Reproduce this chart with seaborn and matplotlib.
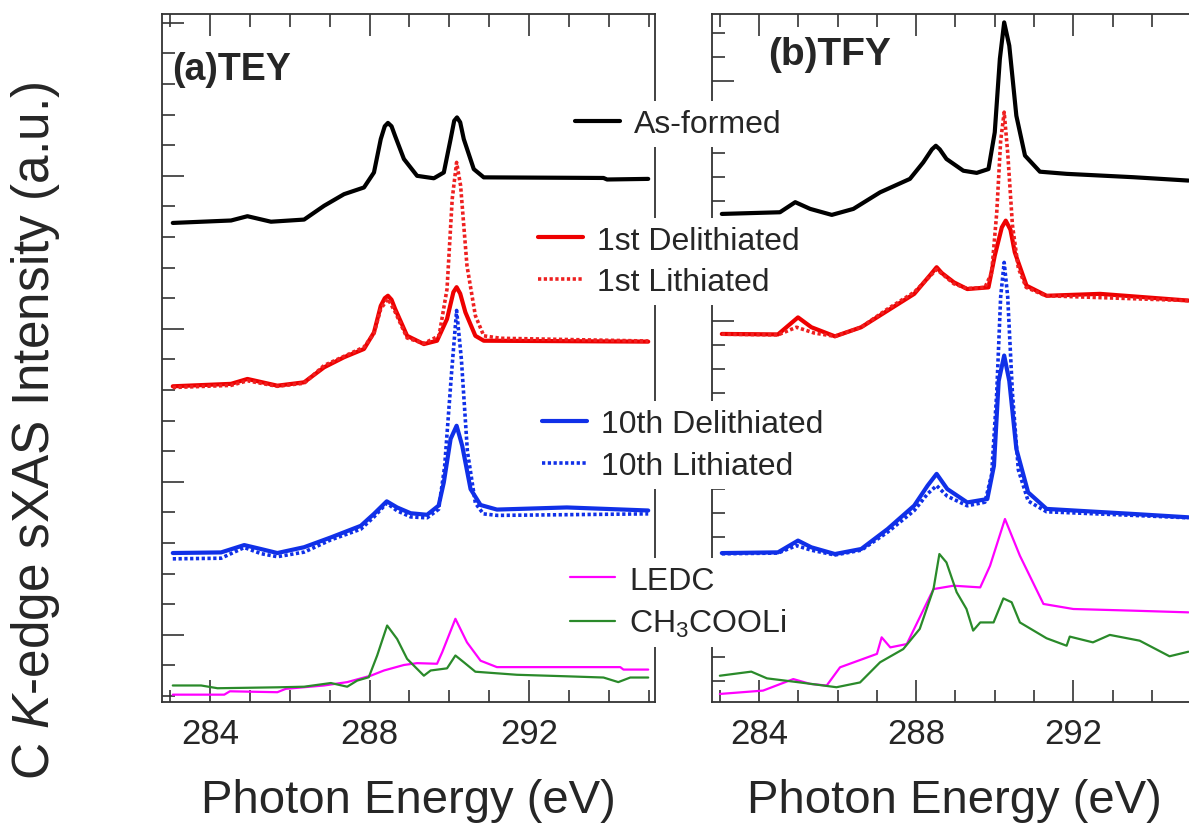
import numpy as np
import pandas as pd
import seaborn as sns
import matplotlib.pyplot as plt
from matplotlib.ticker import MultipleLocator, FixedLocator

sns.set_theme(style='ticks')
plt.rcParams['font.family'] = ['Liberation Sans', 'DejaVu Sans']
plt.rcParams['mathtext.fontset'] = 'custom'
plt.rcParams['mathtext.rm'] = 'Liberation Sans'
plt.rcParams['mathtext.it'] = 'Liberation Sans:italic'

# ---- (a) TEY ----
tey_asformed_x = [283.07, 284.53, 284.94, 285.53, 286.36, 286.86, 287.36, 287.86, 288.11, 288.28, 288.38, 288.46,
                  288.55, 288.64, 288.86, 289.19, 289.61, 289.86, 290.03, 290.12, 290.19, 290.27, 290.36, 290.61,
                  290.86, 293.86, 293.95, 294.98]
tey_asformed_y = [15.46, 15.54, 15.68, 15.50, 15.57, 16.02, 16.40, 16.62, 17.11, 18.20, 18.62, 18.73,
                  18.62, 18.30, 17.55, 17.00, 16.92, 17.11, 18.20, 18.80, 18.91, 18.75, 18.20, 17.22,
                  16.95, 16.93, 16.88, 16.90]

tey_deli1_x = [283.07, 284.53, 284.94, 285.69, 286.36, 286.86, 287.36, 287.86, 288.11, 288.28, 288.38, 288.46,
               288.55, 288.64, 288.94, 289.36, 289.69, 289.94, 290.10, 290.18, 290.27, 290.40, 290.65, 290.86, 294.98]
tey_deli1_y = [10.12, 10.20, 10.36, 10.14, 10.25, 10.74, 11.07, 11.34, 11.88, 12.75, 13.00, 13.08,
               12.95, 12.65, 11.77, 11.50, 11.61, 12.32, 13.20, 13.36, 13.15, 12.54, 11.77, 11.61, 11.58]

tey_li1_x = [283.07, 284.53, 284.94, 285.69, 286.36, 286.86, 287.36, 287.86, 288.11, 288.28, 288.46, 288.64,
             288.94, 289.36, 289.74, 289.94, 290.07, 290.18, 290.28, 290.44, 290.65, 290.86, 291.28, 294.98]
tey_li1_y = [10.08, 10.15, 10.30, 10.12, 10.22, 10.80, 11.10, 11.40, 11.85, 12.65, 12.98, 12.55,
             11.70, 11.52, 11.77, 13.30, 16.24, 17.44, 16.68, 14.06, 12.43, 11.77, 11.69, 11.60]

tey_deli10_x = [283.07, 284.28, 284.86, 285.28, 285.69, 286.36, 287.03, 287.78, 288.11, 288.43, 288.69, 289.03,
                289.44, 289.73, 289.86, 290.03, 290.18, 290.32, 290.53, 290.78, 291.19, 292.94, 294.98]
tey_deli10_y = [4.67, 4.69, 4.93, 4.80, 4.67, 4.86, 5.18, 5.56, 5.95, 6.36, 6.16, 5.97,
                5.92, 6.22, 6.98, 8.40, 8.83, 8.18, 6.76, 6.24, 6.09, 6.16, 6.06]

tey_li10_x = [283.07, 284.28, 284.86, 285.28, 285.69, 286.36, 287.03, 287.78, 288.11, 288.43, 288.69, 289.03,
              289.44, 289.73, 289.88, 290.05, 290.18, 290.30, 290.45, 290.65, 290.85, 291.20, 294.98]
tey_li10_y = [4.48, 4.50, 4.85, 4.65, 4.55, 4.70, 5.10, 5.45, 5.85, 6.30, 6.05, 5.85,
              5.82, 6.10, 7.50, 10.50, 12.60, 11.00, 8.00, 6.30, 5.95, 5.90, 5.95]

tey_ledc_x = [283.07, 284.36, 284.50, 285.69, 285.90, 286.86, 287.44, 288.03, 288.36, 288.86, 289.19, 289.69,
              289.82, 290.15, 290.44, 290.78, 291.19, 294.28, 294.36, 294.98]
tey_ledc_y = [0.04, 0.04, 0.15, 0.12, 0.23, 0.34, 0.45, 0.66, 0.83, 1.01, 1.07, 1.05,
              1.43, 2.52, 1.75, 1.15, 0.94, 0.94, 0.86, 0.86]

tey_acet_x = [283.07, 283.78, 284.19, 285.69, 286.36, 287.03, 287.44, 287.69, 287.98, 288.19, 288.44, 288.69,
              288.94, 289.36, 289.53, 289.94, 290.15, 290.36, 290.65, 291.69, 292.94, 293.86, 294.23, 294.53, 294.98]
tey_acet_y = [0.34, 0.34, 0.25, 0.28, 0.30, 0.42, 0.30, 0.50, 0.61, 1.32, 2.30, 1.86,
              1.21, 0.66, 0.83, 0.90, 1.32, 1.10, 0.79, 0.69, 0.64, 0.60, 0.45, 0.60, 0.60]

# ---- (b) TFY ----
tfy_asformed_x = [283.05, 284.53, 284.92, 285.30, 285.85, 286.40, 287.08, 287.84, 288.18, 288.40, 288.50, 288.60,
                  288.77, 289.20, 289.54, 289.84, 290.00, 290.13, 290.24, 290.37, 290.55, 290.77, 291.15, 291.83,
                  293.53, 294.93]
tfy_asformed_y = [19.46, 19.53, 19.95, 19.67, 19.42, 19.67, 20.36, 20.92, 21.61, 22.15, 22.30, 22.15,
                  21.75, 21.26, 21.17, 21.33, 22.86, 25.92, 27.44, 26.47, 23.55, 21.89, 21.22, 21.13,
                  20.99, 20.85]

tfy_deli1_x = [283.05, 284.48, 284.99, 285.33, 285.93, 286.60, 287.27, 287.95, 288.40, 288.52, 288.65, 288.96,
               289.30, 289.84, 290.00, 290.18, 290.28, 290.40, 290.51, 290.81, 291.32, 292.68, 294.93]
tfy_deli1_y = [14.46, 14.44, 15.15, 14.74, 14.36, 14.74, 15.43, 16.13, 17.00, 17.24, 17.00, 16.61,
               16.33, 16.40, 17.72, 18.90, 19.18, 18.80, 17.86, 16.47, 16.05, 16.13, 15.85]

tfy_li1_x = [283.05, 284.48, 284.95, 285.40, 285.93, 286.60, 287.27, 287.95, 288.52, 288.96, 289.30, 289.75,
             289.92, 290.05, 290.15, 290.24, 290.33, 290.45, 290.60, 290.80, 291.30, 294.93]
tfy_li1_y = [14.45, 14.42, 14.74, 14.50, 14.36, 14.74, 15.50, 16.20, 17.15, 16.55, 16.35, 16.40,
             17.00, 19.50, 22.50, 23.70, 22.00, 19.00, 17.20, 16.40, 16.05, 15.85]

tfy_deli10_x = [283.05, 284.48, 284.99, 285.33, 285.93, 286.60, 287.27, 287.95, 288.29, 288.52, 288.79, 289.30,
                289.81, 289.98, 290.10, 290.24, 290.37, 290.55, 290.85, 291.32, 293.53, 294.93]
tfy_deli10_y = [5.33, 5.36, 5.85, 5.57, 5.29, 5.50, 6.33, 7.31, 8.14, 8.63, 8.00, 7.44,
                7.58, 8.97, 12.50, 13.56, 12.50, 9.67, 7.86, 7.17, 6.96, 6.82]

tfy_li10_x = [283.05, 284.48, 284.95, 285.33, 285.93, 286.60, 287.27, 287.95, 288.29, 288.52, 288.79, 289.30,
              289.75, 289.92, 290.05, 290.15, 290.24, 290.33, 290.45, 290.60, 290.85, 291.32, 293.53, 294.93]
tfy_li10_y = [5.30, 5.33, 5.64, 5.45, 5.25, 5.45, 6.20, 7.10, 7.80, 8.14, 7.70, 7.30,
              7.45, 8.60, 12.00, 16.00, 17.44, 16.00, 12.00, 8.80, 7.50, 7.05, 6.90, 6.80]

tfy_ledc_x = [283.00, 284.10, 284.87, 285.30, 285.72, 286.06, 287.00, 287.12, 287.34, 287.76, 288.44, 288.95,
              289.63, 289.88, 290.26, 290.64, 291.24, 292.00, 293.53, 294.93]
tfy_ledc_y = [-0.54, -0.40, 0.08, -0.12, -0.19, 0.57, 1.13, 1.82, 1.40, 1.54, 3.83, 3.97,
              3.90, 4.80, 6.75, 5.22, 3.21, 3.00, 2.93, 2.86]

tfy_acet_x = [283.00, 283.80, 284.20, 285.04, 285.97, 286.57, 287.08, 287.67, 288.09, 288.44, 288.59, 288.77,
              289.03, 289.28, 289.45, 289.63, 289.97, 290.22, 290.43, 290.64, 291.32, 291.83, 291.91, 292.50,
              292.93, 293.69, 294.45, 294.93]
tfy_acet_y = [0.22, 0.39, 0.11, -0.06, -0.26, -0.06, 0.78, 1.33, 2.17, 3.83, 5.29, 4.94,
              3.70, 3.00, 2.10, 2.44, 2.44, 3.44, 3.28, 2.44, 1.78, 1.47, 1.85, 1.61,
              1.92, 1.68, 1.03, 1.22]

labels = ['As-formed', '1st Delithiated', '1st Lithiated', '10th Delithiated', '10th Lithiated',
          'LEDC', r'CH$_3$COOLi']
colors = ['black', '#ee0000', '#ee2020', '#1030e8', '#1030e8', '#ff00ff', '#2a8a2a']
dots = (0, (0.9, 0.7))
styles = ['-', '-', dots, '-', dots, '-', '-']
widths = [3.0, 3.0, 2.6, 3.0, 2.6, 1.6, 1.6]

tey = [(tey_asformed_x, tey_asformed_y), (tey_deli1_x, tey_deli1_y), (tey_li1_x, tey_li1_y),
       (tey_deli10_x, tey_deli10_y), (tey_li10_x, tey_li10_y), (tey_ledc_x, tey_ledc_y),
       (tey_acet_x, tey_acet_y)]
tfy = [(tfy_asformed_x, tfy_asformed_y), (tfy_deli1_x, tfy_deli1_y), (tfy_li1_x, tfy_li1_y),
       (tfy_deli10_x, tfy_deli10_y), (tfy_li10_x, tfy_li10_y), (tfy_ledc_x, tfy_ledc_y),
       (tfy_acet_x, tfy_acet_y)]

fig = plt.figure(figsize=(11.89, 8.29), dpi=100)
ax1 = fig.add_axes([162 / 1189, 126 / 829, 493 / 1189, 688 / 829])
ax2 = fig.add_axes([712 / 1189, 126 / 829, 485 / 1189, 688 / 829])

handles = []
for ax, series in [(ax1, tey), (ax2, tfy)]:
    for i, (xs, ys) in enumerate(series):
        df = pd.DataFrame({'E': xs, 'I': ys})
        sns.lineplot(data=df, x='E', y='I', ax=ax, color=colors[i], linestyle=styles[i],
                     linewidth=widths[i], sort=False, estimator=None, label=labels[i], legend=False)
    if ax is ax1:
        handles = list(ax.get_lines())

ax1.set_ylim(-0.2, 22.29)
ax2.set_ylim(-0.875, 27.79)
for ax in (ax1, ax2):
    ax.set_xlim(282.8, 295.15)
    ax.xaxis.set_major_locator(FixedLocator([284, 288, 292]))
    ax.xaxis.set_minor_locator(MultipleLocator(1))
    ax.yaxis.set_minor_locator(MultipleLocator(1))
    ax.tick_params(which='both', direction='in', top=True, right=False, left=True, bottom=True,
                   labelleft=False, color='#333333', width=1.2)
    ax.tick_params(which='major', length=16, labelsize=25, pad=11)
    ax.tick_params(which='minor', length=9)
    for s in ax.spines.values():
        s.set_linewidth(1.3)
        s.set_color('#333333')
    ax.set_ylabel('')
    ax.set_xlabel('Photon Energy (eV)', fontsize=34, labelpad=20)
ax1.yaxis.set_major_locator(FixedLocator([2, 7, 12, 17, 22]))
ax2.yaxis.set_major_locator(FixedLocator([5, 15, 25]))
ax2.spines['right'].set_visible(False)

ax1.text(0.02, 0.905, '(a)TEY', transform=ax1.transAxes, fontsize=27, fontweight='bold', va='baseline')
ax2.text(0.115, 0.928, '(b)TFY', transform=ax2.transAxes, fontsize=28, fontweight='bold', va='baseline',
         bbox=dict(facecolor='white', edgecolor='none', pad=2))

fig.text(36 / 1189, 1 - 431 / 829, r'C $K$-edge sXAS Intensity (a.u.)', rotation=90,
         fontsize=37, ha='center', va='center')

groups = [([0], 567, 125), ([1, 2], 530, 262.5), ([3, 4], 534, 446), ([5, 6], 562, 603.5)]
for idx, px, py in groups:
    fig.legend(handles=[handles[i] for i in idx], labels=[labels[i] for i in idx],
               loc='center left', bbox_to_anchor=(px / 1189, 1 - py / 829), bbox_transform=fig.transFigure,
               frameon=True, facecolor='white', edgecolor='none', framealpha=1, fancybox=False,
               fontsize=23, handlelength=1.4, handletextpad=0.45, borderpad=0.25, labelspacing=0.37,
               borderaxespad=0)

fig.savefig('out.png', dpi=100)
